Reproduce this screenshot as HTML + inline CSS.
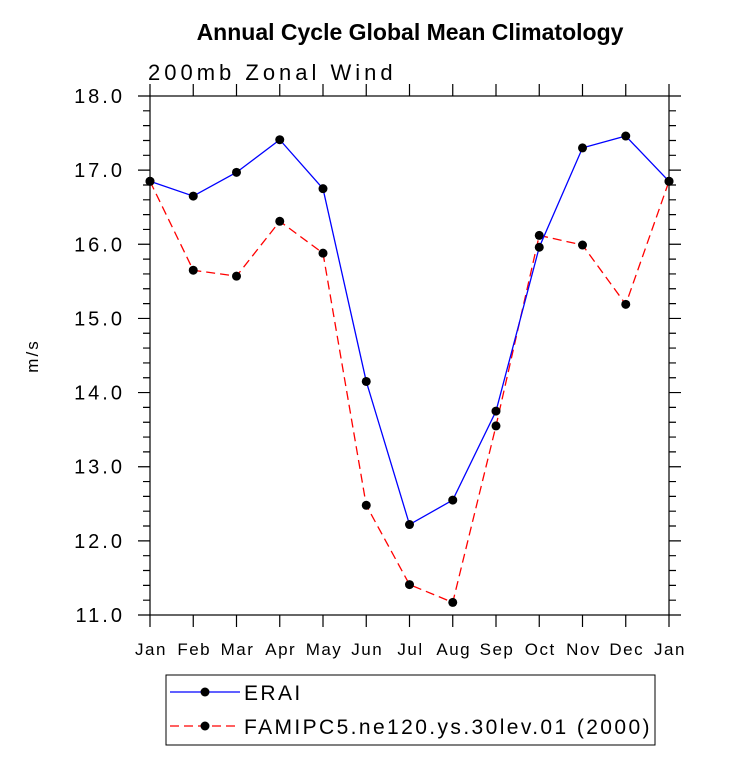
<!DOCTYPE html>
<html><head><meta charset="utf-8"><style>body{margin:0;background:#fff}svg{display:block}</style></head>
<body>
<svg id="chart" width="733" height="766" xmlns="http://www.w3.org/2000/svg" font-family="Liberation Sans, sans-serif">
<text x="410" y="40" text-anchor="middle" font-size="23" font-weight="bold">Annual Cycle Global Mean Climatology</text>
<text x="148" y="80" font-size="22" letter-spacing="4">200mb Zonal Wind</text>
<text x="0" y="0" font-size="17" letter-spacing="2" text-anchor="middle" transform="translate(38,356) rotate(-90)">m/s</text>
<g id="axes"></g>
<g id="series"></g>
<g>
<rect x="166" y="675" width="489" height="70" fill="#fff" stroke="#000" stroke-width="1"/>
<line x1="170" y1="692" x2="240" y2="692" stroke="#0000ff" stroke-width="1.3"/>
<circle cx="205" cy="692" r="4.5" fill="#000"/>
<text x="244" y="700" font-size="21" letter-spacing="2.4">ERAI</text>
<line x1="170" y1="726" x2="240" y2="726" stroke="#ff0000" stroke-width="1.3" stroke-dasharray="9,5"/>
<circle cx="205" cy="726" r="4.5" fill="#000"/>
<text x="244" y="734" font-size="21" letter-spacing="2.4">FAMIPC5.ne120.ys.30lev.01 (2000)</text>
</g>
</svg>
<script>
const months = ["Jan","Feb","Mar","Apr","May","Jun","Jul","Aug","Sep","Oct","Nov","Dec","Jan"];
const erai = [16.85,16.65,16.97,17.41,16.75,14.15,12.22,12.55,13.75,15.96,17.30,17.46,16.85];
const famip = [16.85,15.65,15.57,16.31,15.88,12.48,11.41,11.17,13.55,16.12,15.99,15.19,16.85];
const yTicks = ["11.0","12.0","13.0","14.0","15.0","16.0","17.0","18.0"];
const NS="http://www.w3.org/2000/svg";
const L=150,R=669,T=96,B=615,ymin=11,ymax=18;
const xs=i=>L+(R-L)*i/(months.length-1);
const ys=v=>B-(v-ymin)/(ymax-ymin)*(B-T);
function mk(tag,attrs,parent){const e=document.createElementNS(NS,tag);for(const k in attrs)e.setAttribute(k,attrs[k]);parent.appendChild(e);return e;}
const ax=document.getElementById('axes');
const frame=mk('rect',{x:L,y:T,width:R-L,height:B-T,fill:'none',stroke:'#000','stroke-width':1.2},ax);


let d='';
for(let i=0;i<months.length;i++){const x=xs(i);d+=`M${x} ${B}V${B+12}M${x} ${T}V${T-12}`;
 const t=mk('text',{x:x+1,y:B+40,'text-anchor':'middle','font-size':17,'letter-spacing':'1.5'},ax);t.textContent=months[i];
 
 }
for(let v=ymin;v<=ymax+1e-6;v+=0.2){const y=ys(v);const maj=Math.abs(v-Math.round(v))<1e-6;const len=maj?12:7;d+=`M${L} ${y}H${L-len}M${R} ${y}H${R+len}`;}
yTicks.forEach(s=>{const t=mk('text',{x:L-25,y:ys(parseFloat(s))+7,'text-anchor':'end','font-size':20,'letter-spacing':'3'},ax);t.textContent=s;
 
 });
const tp=mk('path',{d:d,stroke:'#000','stroke-width':1.2,fill:'none'},ax);


const sg=document.getElementById('series');
function series(vals,color,dash,name){
 const pts=vals.map((v,i)=>xs(i)+','+ys(v)).join(' ');
 const pl=mk('polyline',{points:pts,fill:'none',stroke:color,'stroke-width':1.3},sg);
 if(dash)pl.setAttribute('stroke-dasharray',dash);
 
 
 vals.forEach((v,i)=>{const c=mk('circle',{cx:xs(i),cy:ys(v),r:4.5,fill:'#000'},sg);
  
  });
}
series(famip,'#ff0000','9,5','famip');
series(erai,'#0000ff',null,'erai');
</script>
</body></html>
